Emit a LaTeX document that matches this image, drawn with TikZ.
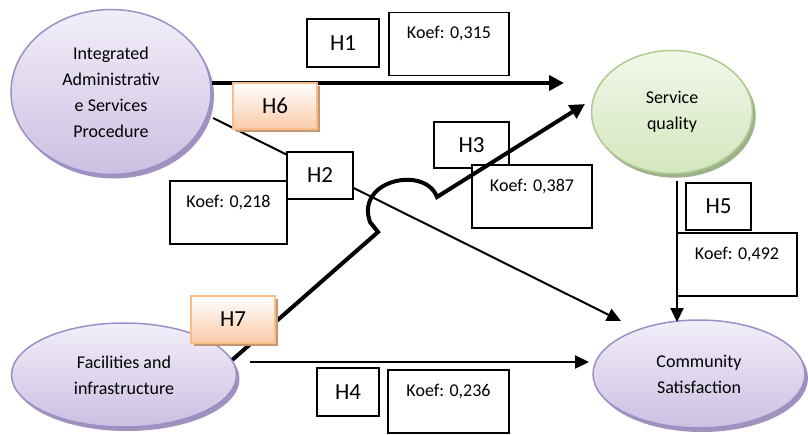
\documentclass[tikz,border=0pt]{standalone}
\usepackage{fontspec}
\setmainfont{Carlito}
\usetikzlibrary{shapes.geometric, arrows.meta, positioning, shadows}
\definecolor{purpleline}{RGB}{158, 142, 200}
\definecolor{purpletop}{RGB}{242, 238, 249}
\definecolor{purplebot}{RGB}{204, 192, 226}
\definecolor{purpleshadow}{RGB}{160, 146, 188}
\definecolor{greenline}{RGB}{172, 204, 140}
\definecolor{greentop}{RGB}{242, 247, 233}
\definecolor{greenbot}{RGB}{212, 230, 190}
\definecolor{greenshadow}{RGB}{158, 178, 138}
\definecolor{orangeline}{RGB}{247, 190, 140}
\definecolor{orangebot}{RGB}{250, 203, 168}
\definecolor{orangeshadow}{RGB}{198, 150, 115}

\begin{document}
\begin{tikzpicture}[x=1pt, y=-1pt,
    latent/.style={ellipse, draw=purpleline, line width=1.5pt, top color=purpletop, bottom color=purplebot, inner sep=0pt, align=center, font=\fontsize{18}{26}\selectfont, drop shadow={shadow xshift=3pt, shadow yshift=-4pt, fill=purpleshadow, opacity=1}},
    latentGreen/.style={latent, draw=greenline, top color=greentop, bottom color=greenbot, drop shadow={shadow xshift=3pt, shadow yshift=-4pt, fill=greenshadow, opacity=1}},
    hypBox/.style={draw=black, fill=white, line width=1.5pt, inner sep=0pt, font=\fontsize{23}{28}\selectfont},
    hypBoxOrange/.style={draw=orangeline, line width=1.5pt, top color=white, bottom color=orangebot, inner sep=0pt, font=\fontsize{23}{28}\selectfont, drop shadow={shadow xshift=3pt, shadow yshift=-3pt, fill=orangeshadow, opacity=1}},
    koefBox/.style={draw=black, fill=white, line width=1.5pt, minimum width=120pt, minimum height=63pt},
    koefText/.style={anchor=center, yshift=-22pt, inner sep=0pt, font=\fontsize{18}{22}\selectfont},
    edge/.style={draw=black, line width=2pt, -{Triangle[length=14pt, width=13pt]}},
    thickEdge/.style={draw=black, line width=4pt, -{Triangle[length=15pt, width=15pt]}}
]
\useasboundingbox (0,0) rectangle (808,434);

% Constructs
\node[latent, minimum width=200pt, minimum height=165pt] (admin) at (111,92) {Integrated\\Administrativ\\e Services\\Procedure};
\node[latentGreen, minimum width=161pt, minimum height=123pt] (quality) at (672,112) {Service\\quality};
\node[latent, minimum width=225pt, minimum height=104pt] (facility) at (124,375) {Facilities and\\infrastructure};
\node[latent, minimum width=212pt, minimum height=108pt] (satisf) at (699,374) {Community\\Satisfaction};

% Free ends of the paths
\coordinate (h1end) at (564,83);
\coordinate (h2start) at (213,118);
\coordinate (h2end) at (621,321);
\coordinate (h3bend) at (378,232);
\coordinate (h3jump) at (370,222);
\coordinate (h3land) at (437,197);
\coordinate (h3end) at (585,104);
\coordinate (h4start) at (250,362);
\coordinate (h4end) at (589,362);
\coordinate (h5start) at (677,181);
\coordinate (h5end) at (677,322);

% Direct paths
\draw[thickEdge] (admin.east |- h1end) -- (h1end);
\draw[edge] (h2start) -- (h2end);
\draw[edge] (h4start) -- (h4end);
\draw[edge] (h5start) -- (h5end);

% Hypotheses and coefficients
\node[hypBox, minimum width=72pt, minimum height=48pt] (h1) at (343,43) {H1};
\node[koefBox, label={[koefText]north:{Koef: 0,315}}] (k1) at (449,44) {};
\node[hypBox, minimum width=66pt, minimum height=47pt] (h2) at (320,175.5) {H2};
\node[koefBox, minimum width=117pt, label={[koefText]north:{Koef: 0,218}}] (k2) at (228.5,212.5) {};
\node[hypBox, minimum width=75pt, minimum height=46pt] (h3) at (471.5,145) {H3};
\node[koefBox, label={[koefText]north:{Koef: 0,387}}] (k3) at (532,196.5) {};
\node[hypBox, minimum width=62pt, minimum height=48pt] (h4) at (348,392) {H4};
\node[koefBox, minimum width=121pt, label={[koefText]north:{Koef: 0,236}}] (k4) at (448.5,401.5) {};
\node[hypBox, minimum width=65pt, minimum height=47pt] (h5) at (718.5,206.5) {H5};
\node[koefBox, label={[koefText]north:{Koef: 0,492}}] (k5) at (737,264.5) {};

% Mediated path with line jump
\draw[thickEdge] (facility.8) -- (h3bend) -- (h3jump) .. controls (355,180) and (425,165) .. (h3land) -- (h3end);

% Indirect hypotheses
\node[hypBoxOrange, minimum width=84pt, minimum height=46pt] (h6) at (275,106) {H6};
\node[hypBoxOrange, minimum width=84pt, minimum height=47pt] (h7) at (233,319.5) {H7};

\end{tikzpicture}
\end{document}
